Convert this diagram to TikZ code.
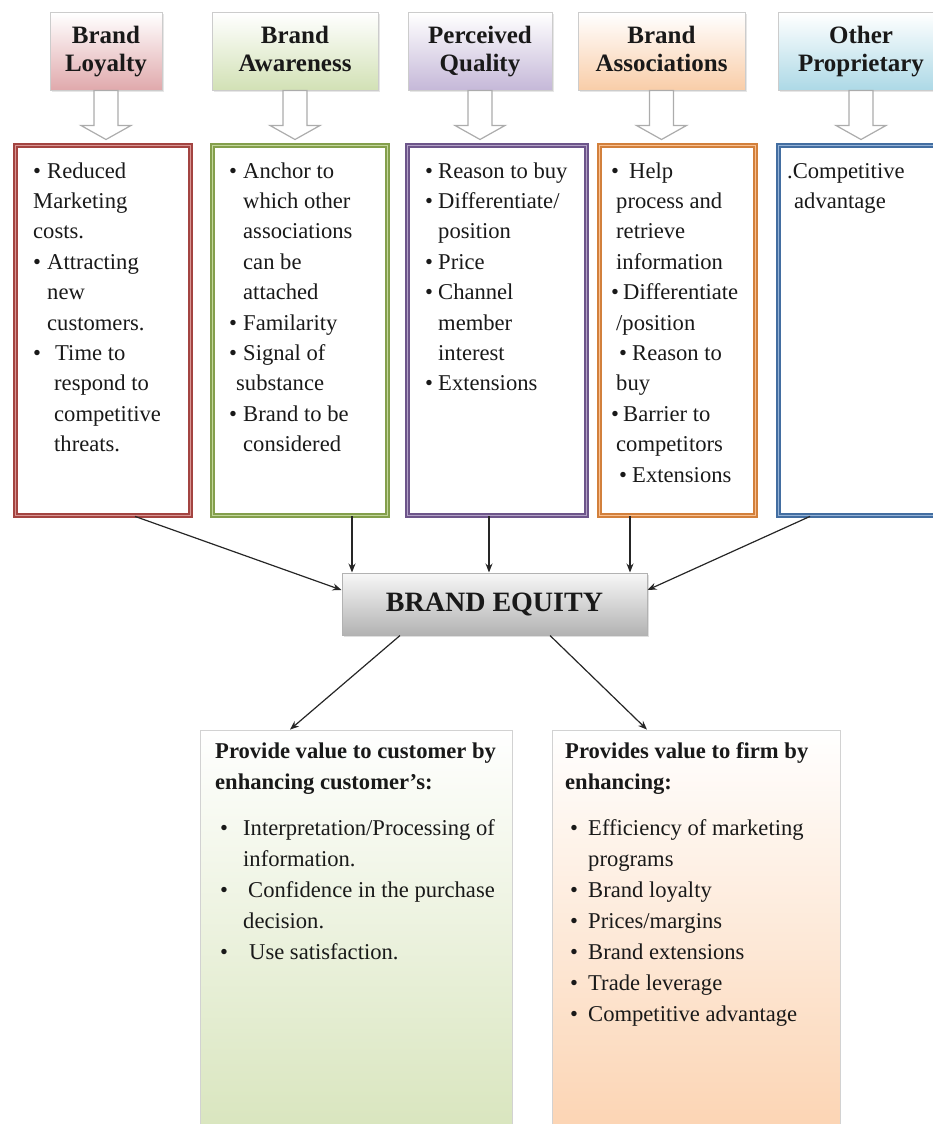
\documentclass[tikz,border=0pt]{standalone}
\usepackage{fontspec}
\setmainfont{Liberation Serif}
\usetikzlibrary{arrows.meta,shadows}

\definecolor{loyred}{HTML}{C0504D}
\definecolor{awagreen}{HTML}{9BBB59}
\definecolor{quapurple}{HTML}{8064A2}
\definecolor{assorange}{HTML}{F79646}
\definecolor{othblue}{HTML}{4F81BD}
\definecolor{loyfill}{HTML}{E0A9AC}
\definecolor{awafill}{HTML}{D2E1B5}
\definecolor{quafill}{HTML}{C5B8D8}
\definecolor{assfill}{HTML}{F9CDA8}
\definecolor{othfill}{HTML}{ADD9E6}
\definecolor{custfill}{HTML}{D4E2B6}
\definecolor{firmfill}{HTML}{FBCFAA}

\newcommand{\itm}[1]{\makebox[#1][l]{\textbullet}}
\newcommand{\hd}[2]{\strut #1\\\strut #2}
\newcommand{\bodyfont}{\fontsize{22.6}{30.4}\selectfont}
\newcommand{\lowfont}{\fontsize{22.6}{31}\selectfont}

\tikzset{
  head/.style={draw=gray!40, line width=1pt, top color=white, bottom color=#1,
    inner sep=0pt, minimum height=77, align=center, text=black!90,
    font=\fontsize{25}{28}\selectfont\bfseries,
    drop shadow={shadow xshift=1.5pt, shadow yshift=-1.5pt, opacity=.2}},
  midbox/.style={draw=#1!85!black, double=#1!60, double distance=1.6pt,
    line width=1.8pt, fill=white, minimum height=370, inner sep=0pt},
  bodytxt/.style={anchor=north west, inner sep=0pt, align=left,
    font=\bodyfont, text=black!90},
  hollow/.style={draw=gray!65, fill=white, line width=1.2pt},
  link/.style={-{Stealth[length=9pt,width=7pt]}, line width=1.2pt, black!85},
  equity/.style={draw=gray!60, line width=1pt, top color=gray!6, bottom color=gray!60,
    minimum width=305, minimum height=62, inner sep=0pt, text=black!90,
    font=\fontsize{28}{30}\selectfont\bfseries,
    drop shadow={shadow xshift=2pt, shadow yshift=-2pt, opacity=.25}},
  outbox/.style={draw=gray!35, line width=0.8pt, top color=white, bottom color=#1,
    minimum height=450, inner sep=0pt},
}

\begin{document}
\begin{tikzpicture}[x=1pt, y=-1pt]
  \useasboundingbox (0,0) rectangle (932,1124);

  % Draw the five source headers
  \node[head=loyfill, minimum width=112] (h1) at (106,51.5) {\hd{Brand}{Loyalty}};
  \node[head=awafill, minimum width=166] (h2) at (295,51.5) {\hd{Brand}{Awareness}};
  \node[head=quafill, minimum width=144] (h3) at (480,51.5) {\hd{Perceived}{Quality}};
  \node[head=assfill, minimum width=167] (h4) at (661.5,51.5) {\hd{Brand}{Associations}};
  \node[head=othfill, minimum width=166] (h5) at (861,51.5) {\hd{Other}{Proprietary}};

  % Hollow arrows under the headers
  \foreach \h in {h1,h2,h3,h4,h5}
    \draw[hollow] ([xshift=-12pt]\h.south) -- ++(24,0) -- ++(0,35) -- ++(13,0)
      -- ++(-25,14) -- ++(-25,-14) -- ++(13,0) -- cycle;

  % Draw the benefit boxes
  \node[midbox=loyred, minimum width=175] (m1) at (103,330.5) {};
  \node[midbox=awagreen, minimum width=175] (m2) at (300,330.5) {};
  \node[midbox=quapurple, minimum width=179] (m3) at (497,330.5) {};
  \node[midbox=assorange, minimum width=156] (m4) at (677.5,330.5) {};
  \node[midbox=othblue, minimum width=175] (m5) at (866,330.5) {};

  \node[bodytxt] (t1) at (33,156.7) {\strut\itm{14pt}Reduced\\
    Marketing\\
    costs.\\
    \itm{14pt}Attracting\\
    \hspace*{14pt}new\\
    \hspace*{14pt}customers.\\
    \itm{22pt}Time to\\
    \hspace*{21pt}respond to\\
    \hspace*{21pt}competitive\\
    \hspace*{21pt}threats.};
  \node[bodytxt] (t2) at (229,156.7) {\strut\itm{14pt}Anchor to\\
    \hspace*{14pt}which other\\
    \hspace*{14pt}associations\\
    \hspace*{14pt}can be\\
    \hspace*{14pt}attached\\
    \itm{14pt}Familarity\\
    \itm{14pt}Signal of\\
    \hspace*{7pt}substance\\
    \itm{14pt}Brand to be\\
    \hspace*{14pt}considered};
  \node[bodytxt] (t3) at (425,156.7) {\strut\itm{13pt}Reason to buy\\
    \itm{13pt}Differentiate/\\
    \hspace*{13pt}position\\
    \itm{13pt}Price\\
    \itm{13pt}Channel\\
    \hspace*{13pt}member\\
    \hspace*{13pt}interest\\
    \itm{13pt}Extensions};
  \node[bodytxt] (t4) at (611,156.7) {\strut\itm{18pt}Help\\
    \hspace*{5pt}process and\\
    \hspace*{5pt}retrieve\\
    \hspace*{5pt}information\\
    \itm{12pt}Differentiate\\
    \hspace*{5pt}/position\\
    \hspace*{8pt}\itm{13pt}Reason to\\
    \hspace*{5pt}buy\\
    \itm{12pt}Barrier to\\
    \hspace*{5pt}competitors\\
    \hspace*{8pt}\itm{13pt}Extensions};
  \node[bodytxt] (t5) at (787,156.7) {\strut.Competitive\\
    \hspace*{7pt}advantage};

  % Draw the central box
  \node[equity] (be) at (494.5,604) {BRAND EQUITY};

  % Arrows into brand equity
  \draw[link] ([xshift=32pt]m1.south) -- ([yshift=14pt]be.west);
  \draw[link] ([xshift=52pt]m2.south) -- ([xshift=52pt]m2.south |- be.north);
  \draw[link] ([xshift=-8pt]m3.south) -- ([xshift=-8pt]m3.south |- be.north);
  \draw[link] ([xshift=-47.5pt]m4.south) -- ([xshift=-47.5pt]m4.south |- be.north);
  \draw[link] ([xshift=-56pt]m5.south) -- ([yshift=14pt]be.east);

  % Draw the value boxes
  \node[outbox=custfill, minimum width=312] (b1) at (356,955) {};
  \node[outbox=firmfill, minimum width=288] (b2) at (696,955) {};

  \draw[link] ([xshift=-94.5pt]be.south) -- ([xshift=-66pt]b1.north);
  \draw[link] ([xshift=55.5pt]be.south) -- ([xshift=-49pt]b2.north);

  \node[bodytxt, font=\lowfont] (v1) at (215,736.3) {\textbf{\strut Provide value to customer by}\\
    \textbf{enhancing customer’s:}\\[15pt]
    \hspace*{5pt}\itm{23pt}Interpretation/Processing of\\
    \hspace*{28pt}information.\\
    \hspace*{5pt}\itm{28pt}Confidence in the purchase\\
    \hspace*{28pt}decision.\\
    \hspace*{5pt}\itm{29pt}Use satisfaction.};
  \node[bodytxt, font=\lowfont] (v2) at (565,736.3) {\textbf{\strut Provides value to firm by}\\
    \textbf{enhancing:}\\[15pt]
    \hspace*{5pt}\itm{18pt}Efficiency of marketing\\
    \hspace*{23pt}programs\\
    \hspace*{5pt}\itm{18pt}Brand loyalty\\
    \hspace*{5pt}\itm{18pt}Prices/margins\\
    \hspace*{5pt}\itm{18pt}Brand extensions\\
    \hspace*{5pt}\itm{18pt}Trade leverage\\
    \hspace*{5pt}\itm{18pt}Competitive advantage};
\end{tikzpicture}
\end{document}
